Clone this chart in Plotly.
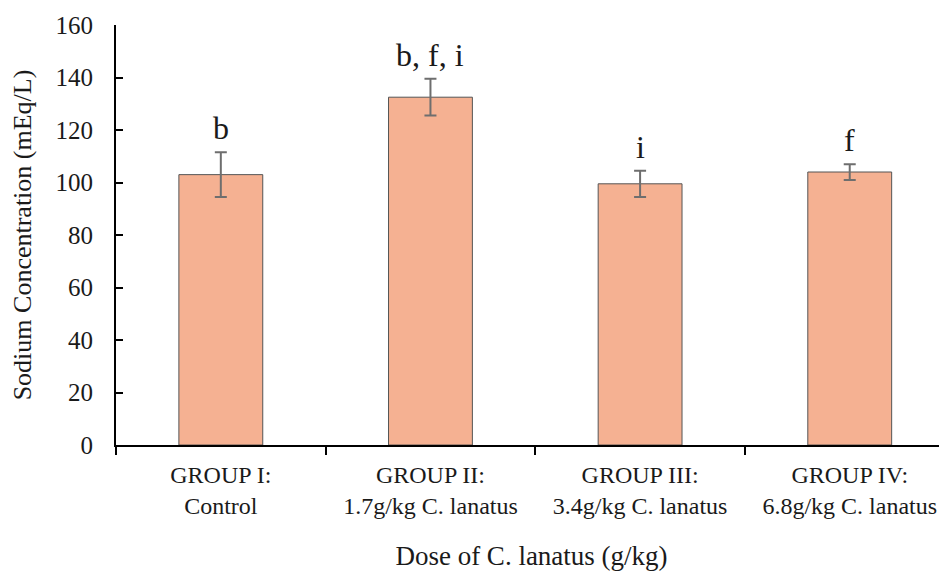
import plotly.graph_objects as go

categories = ["GROUP I:<br>Control", "GROUP II:<br>1.7g/kg C. lanatus",
              "GROUP III:<br>3.4g/kg C. lanatus", "GROUP IV:<br>6.8g/kg C. lanatus"]
means = [103, 132.5, 99.5, 104]
errors = [8.5, 7, 5, 3]
letters = ["b", "b, f, i", "i", "f"]
y_ticks = [0, 20, 40, 60, 80, 100, 120, 140, 160]

FONT = "Liberation Serif, Times New Roman, serif"
TXT = "#1a1a1a"

fig = go.Figure()
fig.add_trace(go.Bar(
    x=categories, y=means, width=0.4,
    marker=dict(color="#F5B192", line=dict(color="#555555", width=1)),
    error_y=dict(type="data", array=errors, visible=True,
                 color="#6e6e6e", thickness=2, width=6),
    showlegend=False,
))

for c, m, e, t in zip(categories, means, errors, letters):
    fig.add_annotation(x=c, y=m + e, text=t, showarrow=False,
                       yanchor="middle", yshift=24,
                       font=dict(family=FONT, size=32, color=TXT))

# page body has an 8px margin, so the figure sits 8px right/down in the window
fig.update_layout(
    width=947, height=574,
    margin=dict(l=108, r=8, t=17, b=137),
    plot_bgcolor="white", paper_bgcolor="white",
    font=dict(family=FONT, color=TXT),
)
fig.update_xaxes(
    range=[-0.5, 3.464], showline=True, linecolor="black", linewidth=2,
    ticks="outside", tickson="boundaries", ticklen=8, tickwidth=2, tickcolor="black",
    tickfont=dict(family=FONT, size=24, color=TXT),
    ticklabelstandoff=7,
    title=dict(text="Dose of C. lanatus (g/kg)", font=dict(family=FONT, size=27, color=TXT),
               standoff=28),
    showgrid=False, zeroline=False, automargin=False,
)
fig.update_yaxes(
    range=[0, 160], tickvals=y_ticks, showline=True, linecolor="black", linewidth=2,
    ticks="inside", ticklen=7, tickwidth=2, tickcolor="black",
    tickfont=dict(family=FONT, size=25, color=TXT),
    ticklabelstandoff=16,
    title=dict(text="Sodium Concentration (mEq/L)", font=dict(family=FONT, size=26, color=TXT),
               standoff=16),
    showgrid=False, zeroline=False, automargin=False,
)

fig.write_html("out.html")
